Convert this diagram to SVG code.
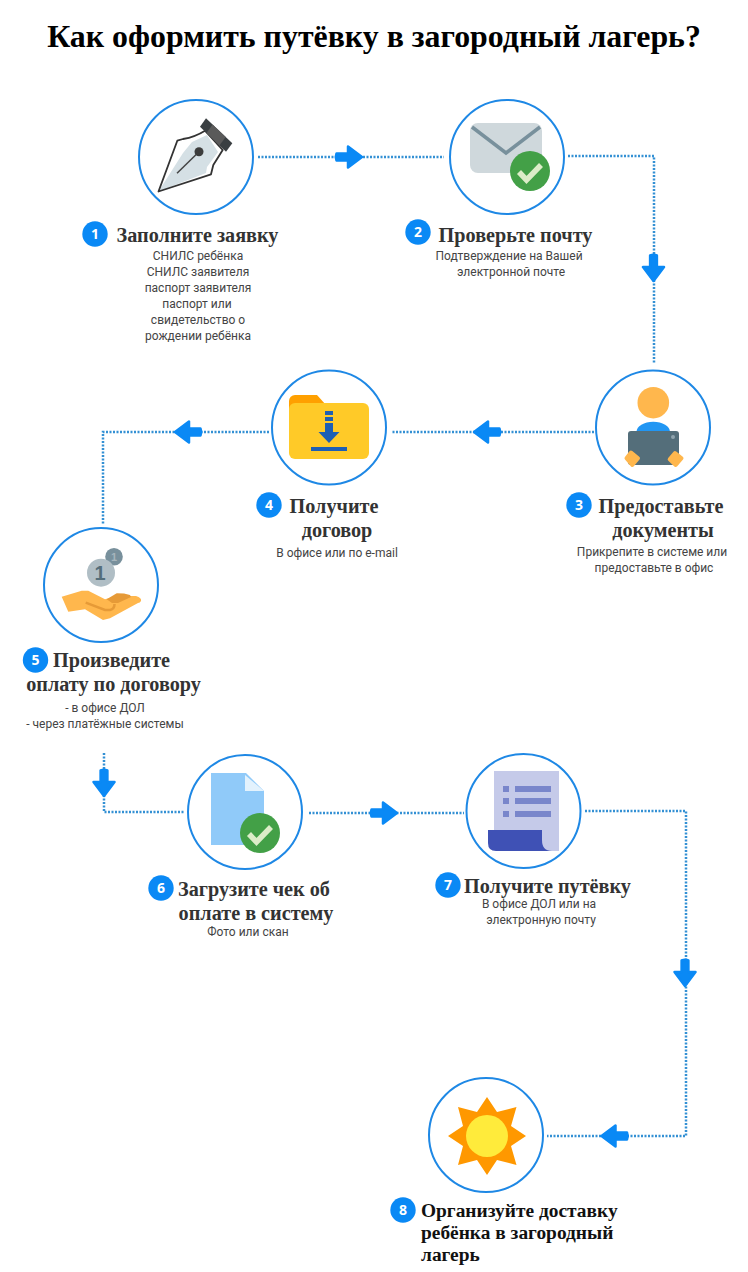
<svg xmlns="http://www.w3.org/2000/svg" width="748" height="1272" viewBox="0 0 748 1272">
<defs>
<path id="arrow" d="M-12.500-3.400H-1V-10.500L13 0L-1 10.500V3.400H-12.500Q-14 0-12.500-3.400Z" fill="#0a89f5" stroke="#0a89f5" stroke-width="2.500" stroke-linejoin="round"/>
<g id="check"><circle r="20" fill="#43a047"/><path d="M-11 1L-3.500 9L11-6" fill="none" stroke="#dcedc8" stroke-width="5.500"/></g>
</defs>
<style>
.ring{fill:#fff;stroke:#1e88e5;stroke-width:2}
.link{fill:none;stroke:#3390d4;stroke-width:2.500;stroke-dasharray:2 1.500}
.badge{fill:#0a89f5}
.num{font:bold 14px "Open Sans","Liberation Sans",sans-serif;fill:#fff;text-anchor:middle}
.h{font:bold 20.200px "Liberation Serif",serif;fill:#333;text-anchor:middle}
.b{font:12px Roboto,"Liberation Sans",sans-serif;fill:#444;text-anchor:middle}
</style>
<rect width="748" height="1272" fill="#fff"/>
<text id="title" x="374" y="47" style="font:bold 31.850px 'Liberation Serif',serif;text-anchor:middle" fill="#000">Как оформить путёвку в загородный лагерь?</text>
<g id="connectors">
<path class="link" d="M258 157H444"/>
<path class="link" d="M568 156H654V363"/>
<path class="link" d="M594 432H391"/>
<path class="link" d="M269 432H103V524"/>
<path class="link" d="M104 753V812H185"/>
<path class="link" d="M309 813H464"/>
<path class="link" d="M585 811H686V1136H547"/>
<use href="#arrow" transform="translate(349 157)"/>
<use href="#arrow" transform="translate(653.500 268) rotate(90)"/>
<use href="#arrow" transform="translate(487 432) rotate(180)"/>
<use href="#arrow" transform="translate(188 432) rotate(180)"/>
<use href="#arrow" transform="translate(104 783) rotate(90)"/>
<use href="#arrow" transform="translate(384 813)"/>
<use href="#arrow" transform="translate(685 973) rotate(90)"/>
<use href="#arrow" transform="translate(614.500 1136) rotate(180)"/>
</g>
<g id="node1">
<circle class="ring" cx="196" cy="157" r="57"/>
<path d="M158.500 191.500L183 153L192 142L207 135L218 152L207 167L206 173Z" fill="#d5e0e5"/>
<path d="M158.500 191.500L177.300 140.700L183 139Q195 137 205 130.700L222.700 150L213.300 165L211 174.300Z" fill="none" stroke="#333" stroke-width="1.800" stroke-linejoin="round"/>
<path d="M177 173.300L199 151.700" stroke="#444" stroke-width="1.500"/>
<circle cx="199" cy="151.700" r="4.500" fill="#3c3c3c"/>
<path d="M206 118.300L232.300 143.300L226 151.700L200 126.700Z" fill="#3a3f42"/>
<path d="M212.600 124.600L225.700 137L219.400 145.400L206.500 133Z" fill="#5a5a5a"/>
<circle class="badge" cx="95" cy="234" r="12.700"/><text class="num" x="95" y="239">1</text>
<text class="h" x="197.500" y="242">Заполните заявку</text>
<text class="b" x="198" y="260">СНИЛС ребёнка</text>
<text class="b" x="198" y="276">СНИЛС заявителя</text>
<text class="b" x="198" y="292">паспорт заявителя</text>
<text class="b" x="197" y="308">паспорт или</text>
<text class="b" x="198" y="324">свидетельство о</text>
<text class="b" x="198" y="340">рождении ребёнка</text>
</g>
<g id="node2">
<circle class="ring" cx="507" cy="157" r="57"/>
<rect x="470" y="123" width="72" height="50" rx="8" fill="#cfd8dc"/>
<path d="M472 127L506 153L540 127" fill="none" stroke="#78909c" stroke-width="3.500"/>
<use href="#check" transform="translate(530 171)"/>
<circle class="badge" cx="418" cy="232" r="12.700"/><text class="num" x="418" y="237">2</text>
<text class="h" x="515.500" y="242">Проверьте почту</text>
<text class="b" x="509" y="260">Подтверждение на Вашей</text>
<text class="b" x="511" y="276">электронной почте</text>
</g>
<g id="node3">
<circle class="ring" cx="653" cy="427.500" r="57"/>
<circle cx="653.300" cy="402.700" r="15.800" fill="#ffb74d"/>
<path d="M636.500 432a16.500 10 0 0 1 33.500 0Z" fill="#2196f3"/>
<rect x="628" y="431" width="51" height="34" rx="3" fill="#546e7a"/>
<circle cx="673" cy="437" r="2" fill="#90a4ae"/>
<path d="M626.500 458.300L631 452.500L638 458.300L632.300 465Z M669.700 459.300L675 453L681.500 458.300L675.700 465Z" fill="#ffb74d" stroke="#ffb74d" stroke-width="4" stroke-linejoin="round"/>
<circle class="badge" cx="579" cy="505" r="12.700"/><text class="num" x="579" y="510">3</text>
<text class="h" x="661" y="513">Предоставьте</text>
<text class="h" x="663" y="537">документы</text>
<text class="b" x="652" y="556">Прикрепите в системе или</text>
<text class="b" x="654" y="572">предоставьте в офис</text>
</g>
<g id="node4">
<circle class="ring" cx="329" cy="427.500" r="57"/>
<path d="M289 401a6 6 0 0 1 6-6H317L326 405V410H289Z" fill="#ffa000"/>
<rect x="289" y="403" width="80" height="56" rx="6" fill="#ffca28"/>
<path d="M325 411H333V415H325ZM325 417H333V421H325ZM325 423H333V432H339.500L329 443L318.500 432H325Z M311 447H347V451H311Z" fill="#1e5fb4"/>
<circle class="badge" cx="269" cy="505" r="12.700"/><text class="num" x="269" y="510">4</text>
<text class="h" x="334" y="513">Получите</text>
<text class="h" x="337" y="537">договор</text>
<text class="b" x="337" y="557">В офисе или по e-mail</text>
</g>
<g id="node5">
<circle class="ring" cx="101" cy="585" r="57"/>
<circle cx="114" cy="556.700" r="8.800" fill="#78909c"/>
<text x="114" y="561" style="font:bold 11px 'Liberation Sans',sans-serif;text-anchor:middle" fill="#a6b5bd">1</text>
<circle cx="101" cy="572.700" r="14" fill="#b0bec5"/>
<text x="100" y="580" style="font:bold 20px 'Liberation Sans',sans-serif;text-anchor:middle" fill="#546e7a">1</text>
<path d="M61.700 596.700L81.700 590.700H88.300L105 599.300L116 596L136 596Q142 598 141 601Q140 603 138 603L110 618.300L103 620L85 609.300L68.300 611.700Z" fill="#ffb74d"/>
<path d="M106.700 599.300L116.700 593.300L124 593.500L130 595L131 597L118 603L112 603Z" fill="#e69a37"/>
<path d="M85.700 602.700L105 610H110Q114.500 609 114.500 604" fill="none" stroke="#e69a37" stroke-width="2.500"/>
<circle class="badge" cx="35.500" cy="660" r="12.700"/><text class="num" x="35.500" y="665">5</text>
<text class="h" x="111.500" y="667">Произведите</text>
<text class="h" x="113.500" y="691">оплату по договору</text>
<text class="b" x="105" y="712">- в офисе ДОЛ</text>
<text class="b" x="105" y="728">- через платёжные системы</text>
</g>
<g id="node6">
<circle class="ring" cx="245" cy="812" r="57"/>
<path d="M211 773H246L264 791V845H211Z" fill="#90caf9"/>
<path d="M245 775L264 791H245Z" fill="#e3f2fd"/>
<use href="#check" transform="translate(260 833)"/>
<circle class="badge" cx="161" cy="888" r="12.700"/><text class="num" x="161" y="893">6</text>
<text class="h" x="254" y="896">Загрузите чек об</text>
<text class="h" x="256" y="920">оплате в систему</text>
<text class="b" x="248" y="936">Фото или скан</text>
</g>
<g id="node7">
<circle class="ring" cx="523.500" cy="811" r="57"/>
<path d="M494 771H559V851H540Q529 851 542 830H494Z" fill="#c5cae9"/>
<path d="M488 830H542V840Q542 851 552 851H496Q488 851 488 843Z" fill="#3f51b5"/>
<path d="M503 786H509V792H503ZM515 786H551V792H515ZM503 798H509V804H503ZM515 798H551V804H515ZM503 811H509V817H503ZM515 811H551V817H515Z" fill="#7986cb"/>
<circle class="badge" cx="448" cy="885" r="12.700"/><text class="num" x="448" y="890">7</text>
<text class="h" x="547.500" y="893">Получите путёвку</text>
<text class="b" x="539" y="908">В офисе ДОЛ или на</text>
<text class="b" x="541" y="924">электронную почту</text>
</g>
<g id="node8">
<circle class="ring" cx="486" cy="1135" r="57"/>
<path d="M487 1097L497 1112L516.500 1107L511 1126L526 1136L511 1146L516.500 1165L497 1160L487 1175L477 1160L458 1165L463 1146L448 1136L463 1126L458 1107L477 1112Z" fill="#ff9800"/>
<circle cx="487" cy="1136" r="21" fill="#ffeb3b"/>
<circle class="badge" cx="403" cy="1210" r="12.700"/><text class="num" x="403" y="1215">8</text>
<g style="font:bold 19.400px 'Liberation Serif',serif" fill="#111">
<text x="421" y="1217">Организуйте доставку</text>
<text x="421" y="1239">ребёнка в загородный</text>
<text x="421" y="1261">лагерь</text>
</g>
</g>
</svg>
